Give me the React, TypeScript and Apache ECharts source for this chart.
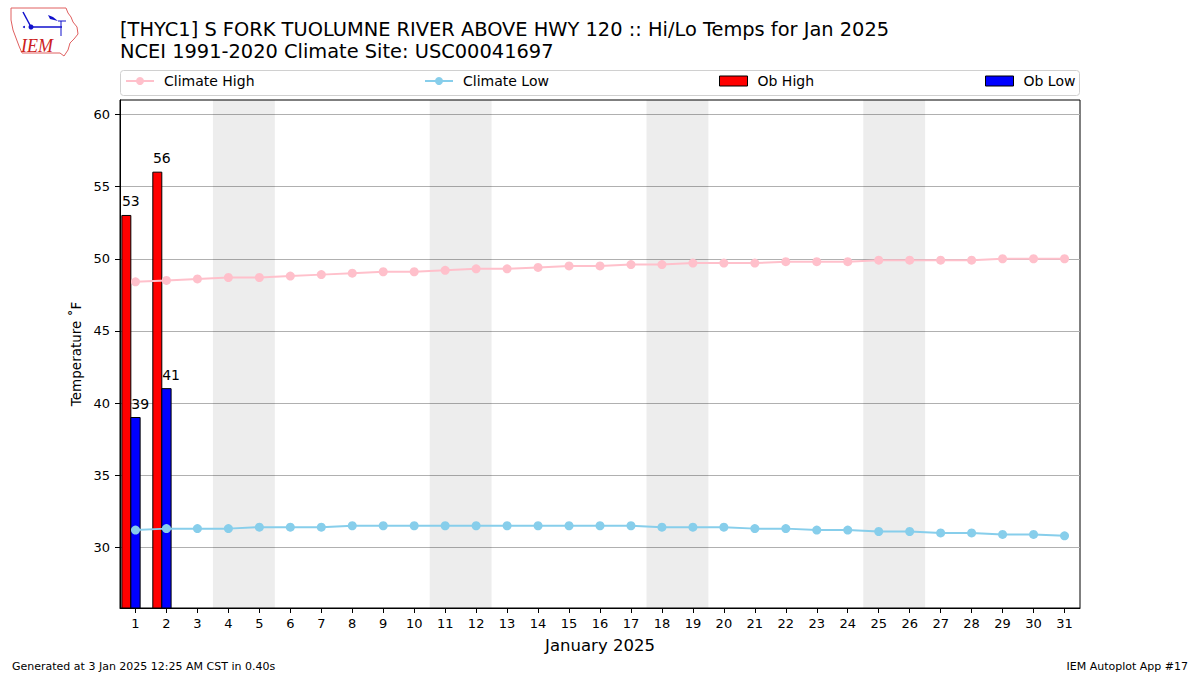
import React, { useEffect, useRef } from "react";
import * as echarts from "echarts";

const FONT = "DejaVu Sans";

const days = [1, 2, 3, 4, 5, 6, 7, 8, 9, 10, 11, 12, 13, 14, 15, 16, 17, 18, 19, 20, 21, 22, 23, 24, 25, 26, 27, 28, 29, 30, 31];
const climateHigh = [48.4, 48.5, 48.6, 48.7, 48.7, 48.8, 48.9, 49.0, 49.1, 49.1, 49.2, 49.3, 49.3, 49.4, 49.5, 49.5, 49.6, 49.6, 49.7, 49.7, 49.7, 49.8, 49.8, 49.8, 49.9, 49.9, 49.9, 49.9, 50.0, 50.0, 50.0];
const climateLow = [31.2, 31.3, 31.3, 31.3, 31.4, 31.4, 31.4, 31.5, 31.5, 31.5, 31.5, 31.5, 31.5, 31.5, 31.5, 31.5, 31.5, 31.4, 31.4, 31.4, 31.3, 31.3, 31.2, 31.2, 31.1, 31.1, 31.0, 31.0, 30.9, 30.9, 30.8];
const obDays = [1, 2];
const obHigh = [53, 56];
const obLow = [39, 41];
const weekendDays = [[4, 5], [11, 12], [18, 19], [25, 26]];
const yTicks = [30, 35, 40, 45, 50, 55, 60];
const Y_MIN = 25.8;
const Y_MAX = 61;

const titleLine1 = "[THYC1] S FORK TUOLUMNE RIVER ABOVE HWY 120 :: Hi/Lo Temps for Jan 2025";
const titleLine2 = "NCEI 1991-2020 Climate Site: USC00041697";
const footerLeft = "Generated at 3 Jan 2025 12:25 AM CST in 0.40s";
const footerRight = "IEM Autoplot App #17";

function barRenderer(off0: number, off1: number, color: string) {
  return (params: any, api: any) => {
    const x = api.value(0);
    const v = api.value(1);
    const tl = api.coord([x + off0, v]);
    const br = api.coord([x + off1, Y_MIN]);
    return {
      type: "group",
      children: [
        {
          type: "rect",
          shape: { x: tl[0], y: tl[1], width: br[0] - tl[0], height: br[1] - tl[1] },
          style: { fill: color, stroke: "#000", lineWidth: 1 },
        },
        {
          type: "text",
          x: br[0],
          y: tl[1] - 7,
          style: {
            text: String(v),
            textAlign: "center",
            textVerticalAlign: "bottom",
            fontSize: 14,
            fontFamily: FONT,
            fill: "#000",
          },
        },
      ],
    };
  };
}

export default function App() {
  const ref = useRef<HTMLDivElement>(null);
  useEffect(() => {
    if (!ref.current) return;
    const chart = echarts.init(ref.current, null, { renderer: "svg" });
    const highData = days.map((d, i) => [d, climateHigh[i]]);
    const lowData = days.map((d, i) => [d, climateLow[i]]);
    const obHighData = obDays.map((d, i) => [d, obHigh[i]]);
    const obLowData = obDays.map((d, i) => [d, obLow[i]]);
    const weekendAreas = weekendDays.map((w) => [{ xAxis: w[0] - 0.5 }, { xAxis: w[1] + 0.5 }]);

    const legendCommon = {
      top: 74,
      padding: 0,
      itemWidth: 28,
      itemHeight: 10,
      textStyle: { fontSize: 14, fontFamily: FONT, color: "#000", padding: [0, 0, 0, 5] },
      selectedMode: false,
    };

    chart.setOption({
      animation: false,
      backgroundColor: "#fff",
      textStyle: { fontFamily: FONT },
      grid: {
        left: 120,
        right: 120,
        top: 100,
        bottom: 67,
        show: true,
        borderColor: "#000",
        borderWidth: 1,
        backgroundColor: "#fff",
        containLabel: false,
      },
      legend: [
        { ...legendCommon, left: 125, data: ["Climate High"] },
        { ...legendCommon, left: 424, data: ["Climate Low"] },
        {
          ...legendCommon,
          left: 719,
          data: [{ name: "Ob High", icon: "rect", itemStyle: { color: "#ff0000", borderColor: "#000", borderWidth: 1 } }],
        },
        {
          ...legendCommon,
          left: 985,
          data: [{ name: "Ob Low", icon: "rect", itemStyle: { color: "#0000ff", borderColor: "#000", borderWidth: 1 } }],
        },
      ],
      xAxis: {
        type: "value",
        min: 0.5,
        max: 31.5,
        name: "January 2025",
        nameLocation: "middle",
        nameGap: 29,
        nameTextStyle: { fontSize: 16.5, fontFamily: FONT, color: "#000" },
        axisLine: { show: true, onZero: false, lineStyle: { color: "#000", width: 1 } },
        axisTick: { show: true, length: 5, lineStyle: { color: "#000" }, customValues: days },
        axisLabel: { fontSize: 13, color: "#000", fontFamily: FONT, margin: 9, customValues: days },
        splitLine: { show: false },
      },
      yAxis: {
        type: "value",
        min: Y_MIN,
        max: Y_MAX,
        name: "Temperature ˚F",
        nameLocation: "middle",
        nameRotate: 90,
        nameGap: 36,
        nameTextStyle: { fontSize: 13.5, fontFamily: FONT, color: "#000" },
        axisLine: { show: true, lineStyle: { color: "#000", width: 1 } },
        axisTick: { show: true, length: 5, lineStyle: { color: "#000" }, customValues: yTicks },
        axisLabel: { fontSize: 13, color: "#000", fontFamily: FONT, margin: 10, customValues: yTicks },
        splitLine: { show: true, lineStyle: { color: "#b0b0b0", width: 1 } },
      },
      graphic: [
        {
          type: "rect",
          z: 0,
          shape: { x: 120.5, y: 70.5, width: 959, height: 25, r: 3 },
          style: { fill: "#fff", stroke: "#d0d0d0", lineWidth: 1 },
        },
        {
          type: "text",
          x: 120,
          y: 29,
          style: { text: titleLine1, fontSize: 19.4, fontFamily: FONT, fill: "#000", textVerticalAlign: "middle" },
        },
        {
          type: "text",
          x: 120,
          y: 51,
          style: { text: titleLine2, fontSize: 19.4, fontFamily: FONT, fill: "#000", textVerticalAlign: "middle" },
        },
        {
          type: "text",
          x: 12,
          y: 666,
          style: { text: footerLeft, fontSize: 11, fontFamily: FONT, fill: "#000", textVerticalAlign: "middle" },
        },
        {
          type: "text",
          x: 1188,
          y: 666,
          style: { text: footerRight, fontSize: 11, fontFamily: FONT, fill: "#000", textAlign: "right", textVerticalAlign: "middle" },
        },
        // IEM logo (approximation)
        {
          type: "group",
          children: [
            {
              type: "polygon",
              shape: {
                points: [
                  [11, 8], [66, 8], [68, 13], [71, 17], [73, 22], [77, 27], [78, 34], [74, 39],
                  [70, 43], [68, 50], [64, 56], [60, 53], [22, 53], [19, 46], [16, 38], [13, 30], [11, 20],
                ],
              },
              style: { fill: "#fff", stroke: "#e06060", lineWidth: 1 },
            },
            { type: "line", shape: { x1: 23, y1: 12, x2: 31, y2: 27 }, style: { stroke: "#1010cc", lineWidth: 1.5 } },
            { type: "line", shape: { x1: 31, y1: 27, x2: 62, y2: 27 }, style: { stroke: "#1010cc", lineWidth: 1.5 } },
            { type: "circle", shape: { cx: 31, cy: 27, r: 2.5 }, style: { fill: "#1010cc" } },
            { type: "polygon", shape: { points: [[48, 15], [53, 17], [58, 21], [50, 19]] }, style: { fill: "#1010cc" } },
            { type: "line", shape: { x1: 58, y1: 21, x2: 66, y2: 21 }, style: { stroke: "#1010cc", lineWidth: 1 } },
            { type: "line", shape: { x1: 61, y1: 21, x2: 61, y2: 36 }, style: { stroke: "#1010cc", lineWidth: 1 } },
            { type: "circle", shape: { cx: 24, cy: 27, r: 1 }, style: { fill: "#1010cc" } },
            {
              type: "text",
              x: 21,
              y: 46,
              style: {
                text: "IEM",
                fontSize: 18,
                fontFamily: "Liberation Serif",
                fontStyle: "italic",
                fill: "#cc2020",
                textVerticalAlign: "middle",
              },
            },
          ],
        },
      ],
      series: [
        {
          name: "Ob High",
          type: "custom",
          renderItem: barRenderer(-0.44, -0.15, "#ff0000"),
          data: obHighData,
          encode: { x: 0, y: 1 },
          itemStyle: { color: "#ff0000", borderColor: "#000", borderWidth: 1 },
          z: 2,
          clip: true,
        },
        {
          name: "Ob Low",
          type: "custom",
          renderItem: barRenderer(-0.15, 0.15, "#0000ff"),
          data: obLowData,
          encode: { x: 0, y: 1 },
          itemStyle: { color: "#0000ff", borderColor: "#000", borderWidth: 1 },
          z: 2,
          clip: true,
        },
        {
          name: "Climate High",
          type: "line",
          data: highData,
          symbol: "circle",
          symbolSize: 9,
          color: "#ffc0cb",
          lineStyle: { color: "#ffc0cb", width: 2 },
          itemStyle: { color: "#ffc0cb" },
          z: 3,
          markArea: {
            silent: true,
            itemStyle: { color: "rgba(0,0,0,0.07)" },
            data: weekendAreas,
          },
        },
        {
          name: "Climate Low",
          type: "line",
          data: lowData,
          symbol: "circle",
          symbolSize: 9,
          color: "#87ceeb",
          lineStyle: { color: "#87ceeb", width: 2 },
          itemStyle: { color: "#87ceeb" },
          z: 3,
        },
      ],
    });
    return () => chart.dispose();
  }, []);

  return (
    <div
      ref={ref}
      style={{ position: "absolute", left: 0, top: 0, width: 1200, height: 675, background: "#fff" }}
    />
  );
}
